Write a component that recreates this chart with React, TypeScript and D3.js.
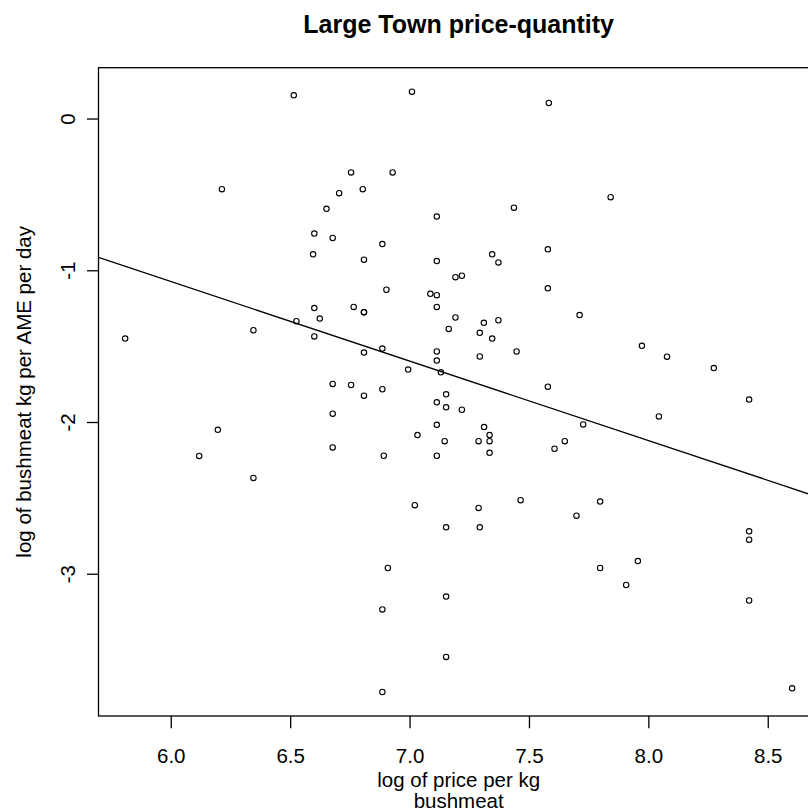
import React from "react";
import * as d3 from "d3";

const priceLog: number[] = [
  6.513, 6.212, 6.524, 6.344, 5.807, 6.195, 6.117, 6.344, 7.008, 7.581,
  6.753, 6.927, 6.802, 6.703, 6.650, 7.112, 7.435, 6.599, 6.676, 6.594,
  6.884, 6.807, 7.112, 7.344, 7.370, 7.577, 7.190, 7.217, 6.901, 7.577,
  7.085, 7.112, 6.599, 6.764, 6.807, 6.807, 7.112, 6.622, 7.190, 7.309,
  7.370, 7.710, 6.599, 7.162, 7.292, 7.344, 6.807, 6.884, 7.112, 7.112,
  7.292, 7.446, 6.992, 7.129, 7.577, 6.676, 6.753, 6.807, 6.884, 7.151,
  7.112, 7.151, 7.217, 6.676, 7.112, 7.310, 7.333, 7.031, 7.145, 7.287,
  7.333, 7.333, 6.676, 6.890, 7.112, 7.648, 7.605, 7.020, 7.287, 7.463,
  7.697, 7.151, 7.292, 6.907, 7.151, 6.884, 7.151, 6.884, 7.840, 7.971,
  8.076, 8.272, 8.420, 8.042, 7.725, 7.796, 8.420, 8.420, 7.954, 7.796,
  7.905, 8.420, 8.600,
];

const quantityLog: number[] = [
  0.156, -0.462, -1.332, -1.392, -1.447, -2.048, -2.220, -2.365, 0.180, 0.106,
  -0.352, -0.352, -0.462, -0.489, -0.592, -0.643, -0.584, -0.755, -0.784, -0.892,
  -0.824, -0.927, -0.936, -0.892, -0.945, -0.859, -1.042, -1.033, -1.125, -1.116,
  -1.152, -1.161, -1.246, -1.238, -1.273, -1.273, -1.238, -1.315, -1.308, -1.343,
  -1.326, -1.292, -1.433, -1.383, -1.409, -1.447, -1.539, -1.513, -1.532, -1.592,
  -1.565, -1.532, -1.651, -1.669, -1.764, -1.746, -1.753, -1.823, -1.781, -1.814,
  -1.867, -1.900, -1.916, -1.942, -2.015, -2.030, -2.083, -2.083, -2.123, -2.123,
  -2.123, -2.200, -2.164, -2.219, -2.219, -2.123, -2.173, -2.545, -2.563, -2.512,
  -2.614, -2.691, -2.691, -2.959, -3.147, -3.232, -3.545, -3.776, -0.515, -1.495,
  -1.566, -1.641, -1.849, -1.960, -2.013, -2.521, -2.717, -2.772, -2.913, -2.959,
  -3.071, -3.173, -3.752,
];

const xTicks: number[] = [6.0, 6.5, 7.0, 7.5, 8.0, 8.5];
const yTicks: number[] = [0, -1, -2, -3];

// fitted regression line: y = intercept + slope * x
const fitIntercept = 2.072;
const fitSlope = -0.524;

const titleText = "Large Town price-quantity";
const xLabelLines = ["log of price per kg", "bushmeat"];
const yLabelText = "log of bushmeat kg per AME per day";

const W = 808;
const H = 812;
const plot = { left: 98.5, right: 818.8, top: 67.7, bottom: 716 };
const FONT = "'Liberation Sans', Arial, Helvetica, sans-serif";

function padExtent(vals: number[]): [number, number] {
  const [lo, hi] = d3.extent(vals) as [number, number];
  const pad = (hi - lo) * 0.04;
  return [lo - pad, hi + pad];
}

export default function App() {
  const xDom = padExtent(priceLog);
  const yDom = padExtent(quantityLog);
  const x = d3.scaleLinear().domain(xDom).range([plot.left, plot.right]);
  const y = d3.scaleLinear().domain(yDom).range([plot.bottom, plot.top]);

  const lineGen = d3
    .line<number>()
    .x((v) => x(v))
    .y((v) => y(fitIntercept + fitSlope * v));

  const cx = (plot.left + plot.right) / 2;
  const cy = (plot.top + plot.bottom) / 2;
  const sw = 1.3;

  return (
    <svg
      width={W}
      height={H}
      style={{ position: "absolute", left: 0, top: 0, background: "#fff" }}
      fontFamily={FONT}
    >
      <rect x={0} y={0} width={W} height={H} fill="#fff" />
      <defs>
        <clipPath id="plotclip">
          <rect
            x={plot.left}
            y={plot.top}
            width={plot.right - plot.left}
            height={plot.bottom - plot.top}
          />
        </clipPath>
      </defs>

      {/* title */}
      <text
        x={cx}
        y={32.7}
        textAnchor="middle"
        fontSize={25}
        fontWeight="bold"
        fill="#000"
      >
        {titleText}
      </text>

      {/* box */}
      <rect
        x={plot.left}
        y={plot.top}
        width={plot.right - plot.left}
        height={plot.bottom - plot.top}
        fill="none"
        stroke="#000"
        strokeWidth={sw}
      />

      {/* x axis */}
      {xTicks.map((t) => (
        <g key={"xt" + t}>
          <line
            x1={x(t)}
            x2={x(t)}
            y1={plot.bottom}
            y2={plot.bottom + 12.3}
            stroke="#000"
            strokeWidth={sw}
          />
          <text x={x(t)} y={762.7} textAnchor="middle" fontSize={20.5} fill="#000">
            {t.toFixed(1)}
          </text>
        </g>
      ))}
      <text x={cx} y={786.7} textAnchor="middle" fontSize={20.5} fill="#000">
        {xLabelLines[0]}
      </text>
      <text x={cx} y={808.3} textAnchor="middle" fontSize={20.5} fill="#000">
        {xLabelLines[1]}
      </text>

      {/* y axis */}
      {yTicks.map((t) => (
        <g key={"yt" + t}>
          <line
            x1={plot.left - 11.5}
            x2={plot.left}
            y1={y(t)}
            y2={y(t)}
            stroke="#000"
            strokeWidth={sw}
          />
          <text
            transform={`translate(${75},${y(t)}) rotate(-90)`}
            textAnchor="middle"
            fontSize={20.5}
            fill="#000"
          >
            {String(t)}
          </text>
        </g>
      ))}
      <text
        transform={`translate(${31},${cy}) rotate(-90)`}
        textAnchor="middle"
        fontSize={20.5}
        fill="#000"
      >
        {yLabelText}
      </text>

      {/* regression line */}
      <g clipPath="url(#plotclip)">
        <path d={lineGen(xDom) || ""} fill="none" stroke="#000" strokeWidth={sw} />
      </g>

      {/* points */}
      {priceLog.map((px, i) => (
        <circle
          key={"p" + i}
          cx={x(px)}
          cy={y(quantityLog[i])}
          r={2.7}
          fill="none"
          stroke="#000"
          strokeWidth={1.1}
        />
      ))}
    </svg>
  );
}
